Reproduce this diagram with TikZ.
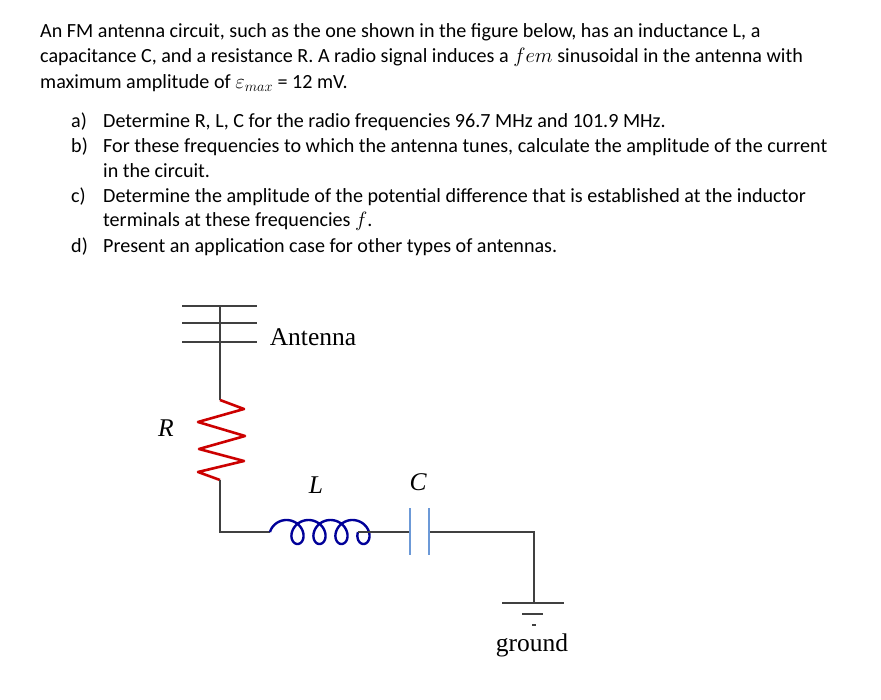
\documentclass[tikz,border=0pt]{standalone}
\usepackage{fontspec}
\setmainfont{Carlito}
\newfontfamily\serifc{Liberation Serif}
\begin{document}
\begin{tikzpicture}[x=1pt,y=-1pt,
  txt/.style={anchor=west,inner sep=0pt,font=\fontsize{20.1}{22}\selectfont},
  lab/.style={inner sep=0pt,font=\serifc\fontsize{25.5}{28}\selectfont},
  wire/.style={draw=black!75,line width=1.1pt}]
\useasboundingbox (0,0) rectangle (881,700);
\node[txt] (l1) at (40,32) {An FM antenna circuit, such as the one shown in the figure below, has an inductance L, a};
\node[txt] (l2) at (40,57) {capacitance C, and a resistance R. A radio signal induces a $fem$ sinusoidal in the antenna with};
\node[txt] (l3) at (40,83) {maximum amplitude of $\varepsilon_{max}$ = 12 mV.};
\node[txt] (a1) at (71,122) {a)};
\node[txt] (a2) at (103,122) {Determine R, L, C for the radio frequencies 96.7 MHz and 101.9 MHz.};
\node[txt] (b1) at (71,147) {b)};
\node[txt] (b2) at (103,147) {For these frequencies to which the antenna tunes, calculate the amplitude of the current};
\node[txt] (b3) at (103,171) {in the circuit.};
\node[txt] (c1) at (71,197) {c)};
\node[txt] (c2) at (103,197) {Determine the amplitude of the potential difference that is established at the inductor};
\node[txt] (c3) at (103,221) {terminals at these frequencies $f$.};
\node[txt] (d1) at (71,247) {d)};
\node[txt] (d2) at (103,247) {Present an application case for other types of antennas.};
% antenna
\foreach \yy in {306,323,342} \draw[wire] (182,\yy) -- (257,\yy);
\coordinate (at) at (220,306);
\coordinate (rt) at (220,400);
\coordinate (rb) at (220,480);
\coordinate (cn) at (220,532);
\coordinate (lt) at (270,532);
\coordinate (le) at (358,532);
\coordinate (c1a) at (410,532);
\coordinate (c2a) at (430,532);
\coordinate (gc) at (534,532);
\coordinate (gt) at (534,603);
\draw[wire] (at) -- (rt);
\draw[red!80!black,line width=2.6pt,line join=round] (rt) -- (244,409) -- (198,422) -- (245,436) -- (199,449) -- (244,461) -- (198,472) -- (rb);
\draw[wire] (rb) -- (cn) -- (lt);
\draw[blue!60!black,line width=2.4pt] plot[domain=0:25.13,samples=200,smooth] ({281+3.5*\x-11*cos(\x r)},{532-12*sin(\x r)});
\draw[wire] (le) -- (c1a);
\draw[cyan!50!blue!60,line width=2pt] (410,508) -- (410,555) (429,508) -- (429,555);
\draw[wire] (c2a) -- (gc) -- (gt);
\draw[wire] (502,603) -- (564,603);
\draw[wire] (522,614) -- (543,614);
\draw[wire] (532,625) -- (536,625);
\node[lab] (ant) at (313,337) {Antenna};
\node[lab] (gnd) at (532,645) {ground};
\node[lab] (R) at (166,428) {\itshape R};
\node[lab] (L) at (316,485) {\itshape L};
\node[lab] (C) at (418,482) {\itshape C};
\end{tikzpicture}
\end{document}
